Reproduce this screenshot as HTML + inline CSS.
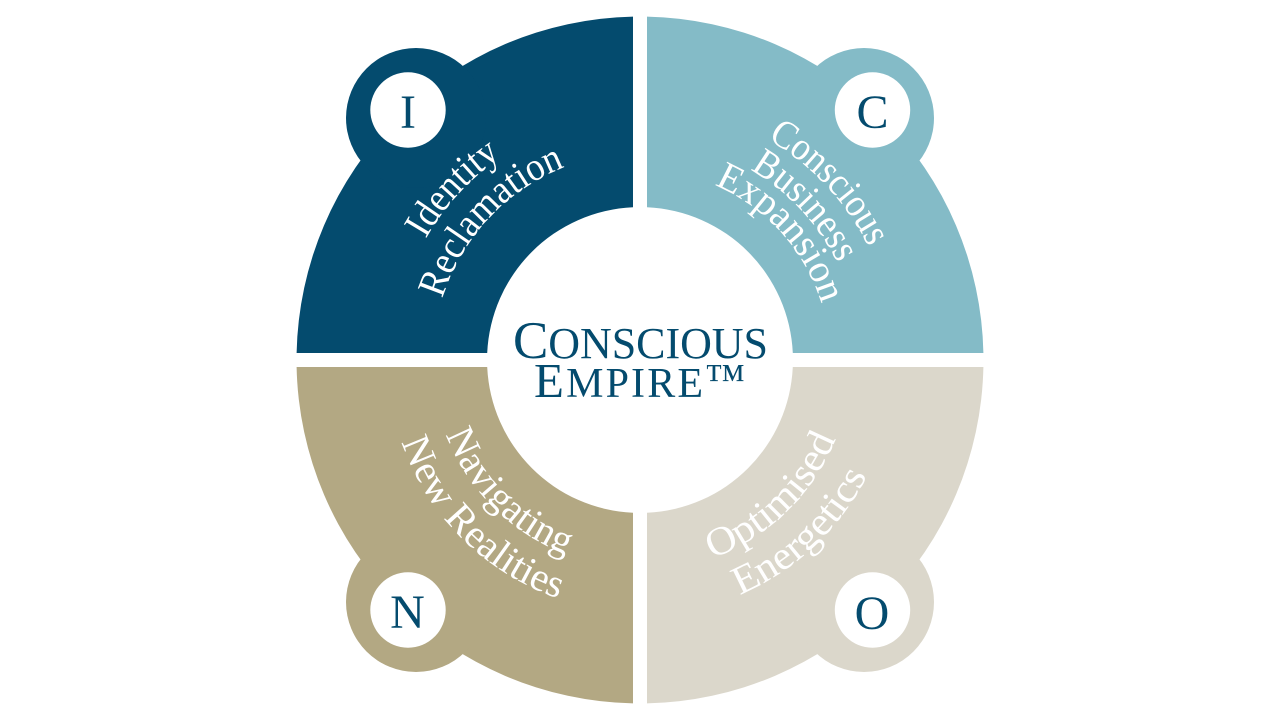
<!DOCTYPE html>
<html>
<head>
<meta charset="utf-8">
<style>
html,body{margin:0;padding:0;background:#fff;width:1280px;height:720px;overflow:hidden}
svg{display:block}
text{font-family:"Liberation Serif",serif}
.l{fill:#fff;font-size:40px}
.k{fill:#044b6e;font-size:48px;text-anchor:middle}
.t{fill:#044b6e}
</style>
</head>
<body>
<svg width="1280" height="720" viewBox="0 0 1280 720" xmlns="http://www.w3.org/2000/svg">
<defs>
<path id="p1" d="M425.9 238.9A246 246 0 0 1 500.3 157.5"/>
<path id="p2" d="M442.3 298.7A207 207 0 0 1 564.9 167"/>
<path id="p3" d="M767.5 139.2A255 255 0 0 1 867.2 244.2"/>
<path id="p4" d="M750 169.5A220 220 0 0 1 836 260.1"/>
<path id="p5" d="M714.3 185A190 190 0 0 1 821.3 303.2"/>
<path id="p6" d="M445.8 434.5A208 208 0 0 0 562 552.8"/>
<path id="p7" d="M401.6 442.1A252 252 0 0 0 557.9 598.3"/>
<path id="p8" d="M712.2 558.3A211 211 0 0 0 835.6 439.1"/>
<path id="p9" d="M739.7 594.9A255 255 0 0 0 867.2 475.8"/>
</defs>

<g fill="#044b6e">
<path d="M633 16.6V207.2A153 153 0 0 0 487.2 353H296.6A343.5 343.5 0 0 1 633 16.6Z"/>
<circle cx="416" cy="118" r="70"/>
</g>
<g fill="#84bbc7">
<path d="M647 16.6V207.2A153 153 0 0 1 792.8 353H983.4A343.5 343.5 0 0 0 647 16.6Z"/>
<circle cx="864" cy="118" r="70"/>
</g>
<g fill="#b3a883">
<path d="M633 703.4V512.8A153 153 0 0 1 487.2 367H296.6A343.5 343.5 0 0 0 633 703.4Z"/>
<circle cx="416" cy="602" r="70"/>
</g>
<g fill="#dbd7cb">
<path d="M647 703.4V512.8A153 153 0 0 0 792.8 367H983.4A343.5 343.5 0 0 1 647 703.4Z"/>
<circle cx="864" cy="602" r="70"/>
</g>

<g fill="#fff">
<circle cx="408" cy="110" r="37.7"/>
<circle cx="872.5" cy="110" r="37.7"/>
<circle cx="408" cy="610" r="37.7"/>
<circle cx="872.5" cy="610" r="37.7"/>
</g>

<text class="k" x="408" y="128">I</text>
<text class="k" x="872.5" y="128">C</text>
<text class="k" x="407.5" y="628">N</text>
<text class="k" x="872" y="629">O</text>

<text class="l"><textPath href="#p1" textLength="112" lengthAdjust="spacingAndGlyphs">Identity</textPath></text>
<text class="l"><textPath href="#p2" textLength="186" lengthAdjust="spacingAndGlyphs">Reclamation</textPath></text>
<text class="l"><textPath href="#p3" textLength="150" lengthAdjust="spacingAndGlyphs">Conscious</textPath></text>
<text class="l"><textPath href="#p4" textLength="130" lengthAdjust="spacingAndGlyphs">Business</textPath></text>
<text class="l"><textPath href="#p5" textLength="165" lengthAdjust="spacingAndGlyphs">Expansion</textPath></text>
<text class="l"><textPath href="#p6" textLength="175" lengthAdjust="spacingAndGlyphs">Navigating</textPath></text>
<text class="l"><textPath href="#p7" textLength="229" lengthAdjust="spacingAndGlyphs">New Realities</textPath></text>
<text class="l"><textPath href="#p8" textLength="177" lengthAdjust="spacingAndGlyphs">Optimised</textPath></text>
<text class="l"><textPath href="#p9" textLength="178" lengthAdjust="spacingAndGlyphs">Energetics</textPath></text>

<text class="t" x="513" y="358" font-size="44" textLength="255"><tspan font-size="53">C</tspan>ONSCIOUS</text>
<text class="t" x="534" y="397" font-size="42" textLength="169"><tspan font-size="49">E</tspan>MPIRE</text>
<text class="t" x="705" y="392" font-size="41">™</text>
</svg>
</body>
</html>
